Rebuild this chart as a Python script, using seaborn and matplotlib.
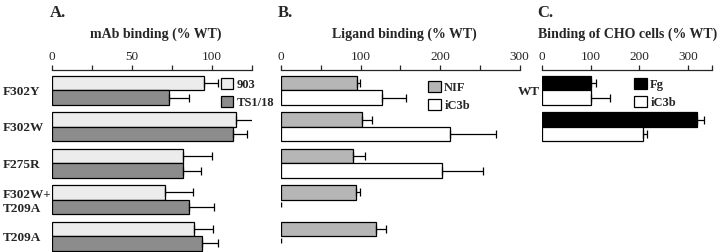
import numpy as np
import pandas as pd
import matplotlib
matplotlib.use("Agg")
import matplotlib.pyplot as plt
from matplotlib.patches import Patch
import seaborn as sns

# ---------------- data ----------------
mutants = ["F302Y", "F302W", "F275R", "F302W+\nT209A", "T209A"]

mab_903 = [95, 115, 82, 71, 89]
mab_903_err = [9, 12, 18, 17.5, 12]
mab_ts118 = [73, 113, 82, 86, 94]
mab_ts118_err = [13, 9, 11, 15.5, 10]

lig_nif = [95, 102, 91, 94, 119.5]
lig_nif_err = [4.5, 12.5, 15, 5.5, 12.5]
lig_ic3b = [127, 213, 202, 0, 0]
lig_ic3b_err = [30, 57, 52, 0, 0]

cho_rows = ["WT", " "]
cho_fg = [100, 319]
cho_fg_err = [10, 15]
cho_ic3b = [100, 207]
cho_ic3b_err = [40, 8]

# ---------------- style ----------------
sns.set_style("ticks")
plt.rcParams["font.family"] = ["Liberation Serif", "DejaVu Serif"]
plt.rcParams["axes.linewidth"] = 0.9

W, H = 720, 252
fig = plt.figure(figsize=(7.2, 2.52), dpi=100)

PITCH = 36.4      # px per category
TOP = 70          # px from top for axis line
TOP_OFF = 0.563   # category units above first center


def make_axes(left_px, width_px, ncat):
    ylim_bottom = ncat - 1 + 0.44
    height_px = (ylim_bottom + TOP_OFF) * PITCH
    ax = fig.add_axes([left_px / W, 1 - (TOP + height_px) / H, width_px / W, height_px / H])
    return ax, (ylim_bottom, -TOP_OFF)


def panel(ax, ylim, cats, s1, e1, s2, e2, names, colors, xlim, majors, minors,
          show_labels=True):
    df = pd.DataFrame({
        "cat": cats * 2,
        "value": list(s1) + list(s2),
        "series": [names[0]] * len(cats) + [names[1]] * len(cats),
    })
    sns.barplot(data=df, y="cat", x="value", hue="series", order=cats,
                hue_order=names, palette=colors, orient="h", errorbar=None,
                edgecolor="black", linewidth=0.9, width=0.8, saturation=1,
                legend=False, ax=ax)
    for cont, errs in zip(ax.containers, [e1, e2]):
        for bar, err in zip(cont.patches, errs):
            if bar.get_width() == 0:
                # zero-valued bar: show only a short mark, as in the original
                bar.set_visible(False)
                yc = bar.get_y() + bar.get_height() / 2
                ax.plot([0, 0], [yc - bar.get_height() * 0.35, yc],
                        color="black", lw=1.0, solid_capstyle="butt")
            if err > 0:
                ax.errorbar(bar.get_width(), bar.get_y() + bar.get_height() / 2,
                            xerr=[[0], [err]], fmt="none", ecolor="black",
                            elinewidth=0.9, capsize=3, capthick=0.9)
    ax.set_xlim(*xlim)
    ax.set_ylim(*ylim)
    ax.xaxis.tick_top()
    ax.set_xticks(majors)
    ax.set_xticks(minors, minor=True)
    ax.set_xticklabels([str(m) for m in majors])
    ax.tick_params(axis="x", which="both", direction="out", length=3.5,
                   width=0.9, labelsize=9.5, pad=1.5, top=True, bottom=False)
    ax.set_xlabel("")
    ax.set_ylabel("")
    for s in ["left", "right", "bottom"]:
        ax.spines[s].set_visible(False)
    ax.spines["top"].set_visible(True)
    ax.tick_params(axis="y", length=0)
    if not show_labels:
        ax.set_yticklabels([])


# Panel A
axA, ylimA = make_axes(51.7, 200, len(mutants))
panel(axA, ylimA, mutants, mab_903, mab_903_err, mab_ts118, mab_ts118_err,
      ["903", "TS1/18"], ["#ececec", "#8c8c8c"], (0, 125), [0, 50, 100],
      [25, 75, 125])
for lab in axA.get_yticklabels():
    lab.set_fontweight("bold")
    lab.set_fontsize(9.5)
    lab.set_horizontalalignment("left")
    lab.set_linespacing(1.15)
axA.tick_params(axis="y", pad=35.5)

# Panel B
axB, ylimB = make_axes(281, 238.5, len(mutants))
panel(axB, ylimB, mutants, lig_nif, lig_nif_err, lig_ic3b, lig_ic3b_err,
      ["NIF", "iC3b"], ["#b6b6b6", "#ffffff"], (0, 300), [0, 100, 200, 300],
      [50, 150, 250], show_labels=False)

# Panel C
axC, ylimC = make_axes(542.3, 169.7, len(cho_rows))
panel(axC, ylimC, cho_rows, cho_fg, cho_fg_err, cho_ic3b, cho_ic3b_err,
      ["Fg", "iC3b"], ["#000000", "#ffffff"], (0, 350), [0, 100, 200, 300],
      [350])
for lab in axC.get_yticklabels():
    lab.set_fontweight("bold")
    lab.set_fontsize(9.5)
axC.tick_params(axis="y", pad=2)


def add_legend(ax, names, colors, x_px, y_px):
    handles = [Patch(facecolor=c, edgecolor="black", linewidth=0.9) for c in colors]
    ax.legend(handles, names, loc="upper left",
              bbox_to_anchor=(x_px / W, 1 - y_px / H),
              bbox_transform=fig.transFigure, frameon=False,
              prop={"weight": "bold", "size": 9, "family": ["Liberation Serif"]},
              handlelength=1.0, handleheight=1.0, handletextpad=0.3,
              labelspacing=0.4, borderpad=0, borderaxespad=0)


add_legend(axA, ["903", "TS1/18"], ["#ececec", "#8c8c8c"], 220.5, 78)
add_legend(axB, ["NIF", "iC3b"], ["#b6b6b6", "#ffffff"], 428, 81)
add_legend(axC, ["Fg", "iC3b"], ["#000000", "#ffffff"], 634, 78)

# Titles
title_kw = dict(fontweight="bold", fontsize=12, va="center", ha="left")
fig.text(50 / W, 1 - 13 / H, "A.", **title_kw)
fig.text(278 / W, 1 - 13 / H, "B.", **title_kw)
fig.text(537 / W, 1 - 13 / H, "C.", **title_kw)

sub_kw = dict(fontweight="bold", fontsize=10, va="center", ha="center")
fig.text(156 / W, 1 - 34 / H, "mAb binding (% WT)", **sub_kw)
fig.text(404 / W, 1 - 34 / H, "Ligand binding (% WT)", **sub_kw)
fig.text(628 / W, 1 - 34 / H, "Binding of CHO cells (% WT)", **sub_kw)

fig.savefig("out.png", dpi=100)
